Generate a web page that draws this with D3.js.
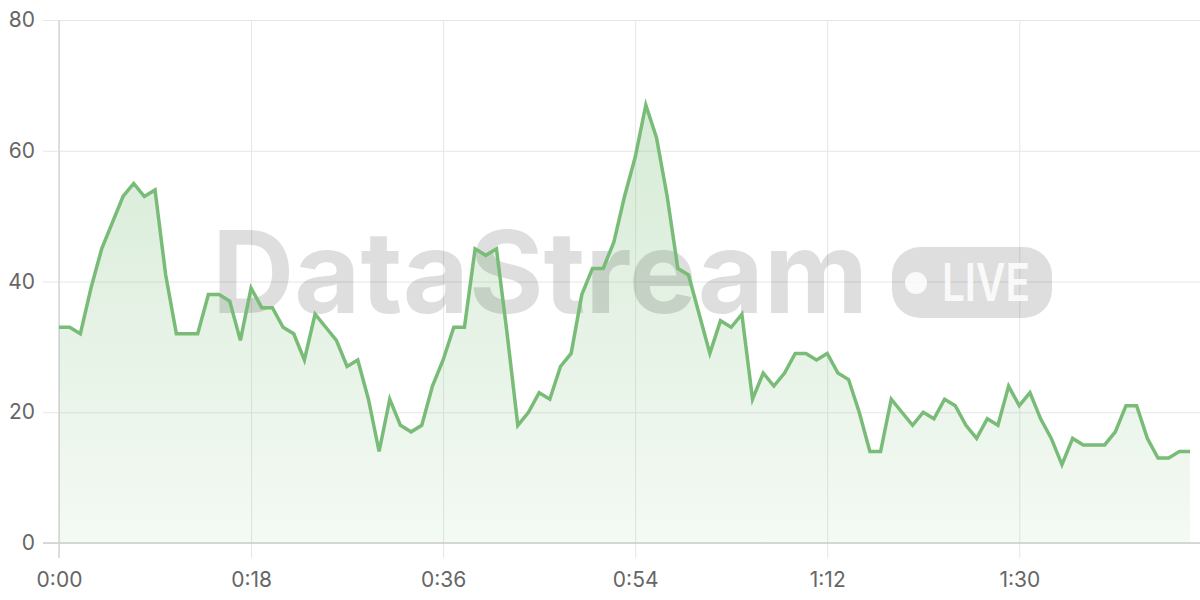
<!DOCTYPE html>
<html>
<head>
<meta charset="utf-8">
<script src="https://cdn.jsdelivr.net/npm/d3@7"></script>
<style>
  html, body { margin: 0; padding: 0; background: #fff; }
  svg { display: block; }
</style>
</head>
<body>
<svg id="chart" width="1200" height="600"></svg>
<script>
// Seconds elapsed (0..106) and the streamed values
const seconds = d3.range(0, 107);
const values = [
  33, 33, 32, 39, 45, 49, 53, 55, 53, 54,
  41, 32, 32, 32, 38, 38, 37, 31, 39, 36,
  36, 33, 32, 28, 35, 33, 31, 27, 28, 22,
  14, 22, 18, 17, 18, 24, 28, 33, 33, 45,
  44, 45, 32, 18, 20, 23, 22, 27, 29, 38,
  42, 42, 46, 53, 59, 67, 62, 53, 42, 41,
  35, 29, 34, 33, 35, 22, 26, 24, 26, 29,
  29, 28, 29, 26, 25, 20, 14, 14, 22, 20,
  18, 20, 19, 22, 21, 18, 16, 19, 18, 24,
  21, 23, 19, 16, 12, 16, 15, 15, 15, 17,
  21, 21, 16, 13, 13, 14, 14
];
const xTicks = [0, 18, 36, 54, 72, 90];
const yTicks = [0, 20, 40, 60, 80];
const watermarkText = "DataStream";
const badgeText = "LIVE";

(function () {
const data = seconds.map((s, i) => ({ s, v: values[i] }));

const svg = d3.select("#chart");
const mLeft = 59, mRight = 1190, mTop = 20, mBottom = 543;

const x = d3.scaleLinear().domain([0, 106]).range([mLeft, mRight]);
const y = d3.scaleLinear().domain([0, 80]).range([mBottom, mTop]);

const fmt = s => `${Math.floor(s / 60)}:${String(s % 60).padStart(2, "0")}`;
const fontFam = "Inter, 'Noto Sans', sans-serif";

// gradient
const defs = svg.append("defs");
const grad = defs.append("linearGradient")
  .attr("id", "areaGrad").attr("gradientUnits", "userSpaceOnUse")
  .attr("x1", 0).attr("y1", y(67)).attr("x2", 0).attr("y2", mBottom);
grad.append("stop").attr("offset", "0%").attr("stop-color", "#78bc78").attr("stop-opacity", 0.3);
grad.append("stop").attr("offset", "100%").attr("stop-color", "#78bc78").attr("stop-opacity", 0.08);

// horizontal grid (y axis)
const yAxis = d3.axisLeft(y).tickValues(yTicks).tickSize(-(1200 - mLeft)).tickPadding(24);
const gy = svg.append("g").attr("transform", `translate(${mLeft},0)`).call(yAxis);
gy.select(".domain").remove();
gy.selectAll(".tick line").attr("stroke", "#e6e6e6").attr("stroke-width", 1)
  .attr("x1", -16);
gy.selectAll(".tick text").attr("fill", "#666").attr("font-size", 21)
  .attr("font-family", fontFam).attr("x", -24);

// vertical grid (x axis)
const xAxis = d3.axisBottom(x).tickValues(xTicks).tickFormat(fmt)
  .tickSize(-(mBottom - mTop)).tickPadding(26);
const gx = svg.append("g").attr("transform", `translate(0,${mBottom})`).call(xAxis);
gx.select(".domain").remove();
gx.selectAll(".tick line").attr("stroke", "#e6e6e6").attr("stroke-width", 1)
  .attr("y1", 15);
gx.selectAll(".tick text").attr("fill", "#666").attr("font-size", 21)
  .attr("font-family", fontFam).attr("y", 29);

// axis lines
svg.append("line").attr("x1", mLeft).attr("x2", mLeft).attr("y1", mTop).attr("y2", mBottom + 15)
  .attr("stroke", "#d6d6d6").attr("stroke-width", 1.5);
svg.append("line").attr("x1", mLeft - 16).attr("x2", 1200).attr("y1", mBottom).attr("y2", mBottom)
  .attr("stroke", "#cfcfcf").attr("stroke-width", 1.5);

// area
const area = d3.area().x(d => x(d.s)).y0(y(0)).y1(d => y(d.v));
svg.append("path").datum(data).attr("d", area).attr("fill", "url(#areaGrad)");

// watermark
const wm = svg.append("g");
wm.append("text").text(watermarkText)
  .attr("x", 212).attr("y", 313)
  .attr("font-family", fontFam).attr("font-weight", 700).attr("font-size", 114)
  .attr("textLength", 656).attr("lengthAdjust", "spacingAndGlyphs")
  .attr("fill", "#000").attr("fill-opacity", 0.13);
wm.append("rect").attr("x", 892).attr("y", 247).attr("width", 160).attr("height", 71)
  .attr("rx", 28).attr("fill", "#000").attr("fill-opacity", 0.13);
wm.append("circle").attr("cx", 916).attr("cy", 283).attr("r", 11).attr("fill", "#fff").attr("fill-opacity", 0.85);
wm.append("text").text(badgeText)
  .attr("x", 942).attr("y", 301)
  .attr("font-family", fontFam).attr("font-weight", 600).attr("font-size", 52)
  .attr("textLength", 88).attr("lengthAdjust", "spacingAndGlyphs")
  .attr("fill", "#fff").attr("fill-opacity", 0.85);

// line
const line = d3.line().x(d => x(d.s)).y(d => y(d.v));
svg.append("path").datum(data).attr("d", line)
  .attr("fill", "none").attr("stroke", "#78bc78").attr("stroke-width", 3.5)
  .attr("stroke-linejoin", "miter");
})();
</script>
</body>
</html>
